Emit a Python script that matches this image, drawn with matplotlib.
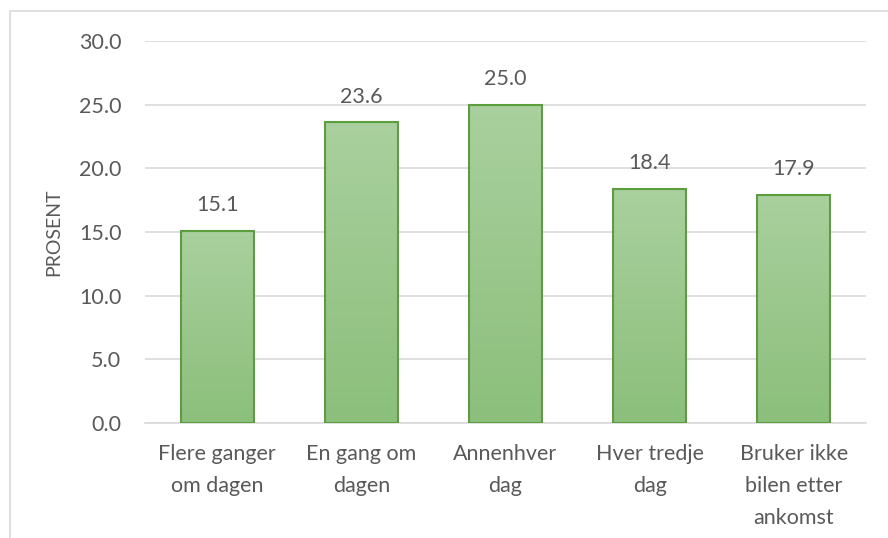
import numpy as np
import matplotlib
matplotlib.use('Agg')
from matplotlib import pyplot as plt
from matplotlib.patches import Rectangle

categories = ['Flere ganger\nom dagen', 'En gang om\ndagen', 'Annenhver\ndag', 'Hver tredje\ndag', 'Bruker ikke\nbilen etter\nankomst']
values = [15.1, 23.6, 25.0, 18.4, 17.9]
yticks = [0, 5, 10, 15, 20, 25, 30]

plt.rcParams['font.family'] = ['Lato', 'DejaVu Sans']
grey = '#595959'

fig = plt.figure(figsize=(8.88, 5.38), dpi=100)
W, H = 888, 538
ax = fig.add_axes([145 / W, 1 - 423 / H, (866 - 145) / W, (423 - 41) / H])

# chart border (cropped at right/bottom)
fig.patches.append(Rectangle((9.5 / W, -0.1), 1.2, 1 - 11 / H + 0.1, transform=fig.transFigure,
                             fill=False, edgecolor='#d9d9d9', linewidth=1.2))

x = np.arange(len(values))
bars = ax.bar(x, values, width=0.505, color='none', edgecolor='#5b9e3c', linewidth=1.5, zorder=3)

grad = np.linspace(0, 1, 256).reshape(-1, 1)
top = np.array([0xa9, 0xd0, 0x9e]) / 255
bot = np.array([0x8c, 0xbf, 0x7b]) / 255
img = top + (bot - top) * grad[:, :, None]
for b in bars:
    bx, by = b.get_x(), b.get_y()
    bw, bh = b.get_width(), b.get_height()
    im = ax.imshow(img, extent=[bx, bx + bw, by, by + bh], aspect='auto', zorder=2, origin='upper')
    im.set_clip_path(b)

for xi, v in zip(x, values):
    ax.annotate(f'{v:.1f}', (xi, v), xytext=(0, 18.5), textcoords='offset points',
                ha='center', va='center', color=grey, fontsize=15.5)

ax.set_xlim(-0.5, len(values) - 0.5)
ax.set_ylim(0, 30)
ax.set_yticks(yticks)
ax.set_yticklabels([f'{t:.1f}' for t in yticks], color=grey, fontsize=15.5)
ax.set_xticks(x)
ax.set_xticklabels(categories, color=grey, fontsize=15.5, linespacing=1.75, va='top')
ax.tick_params(axis='both', length=0)
ax.tick_params(axis='y', pad=17)
ax.tick_params(axis='x', pad=15)
ax.grid(axis='y', color='#d9d9d9', linewidth=1.2, zorder=0)
ax.set_axisbelow(True)
for s in ['top', 'right', 'left']:
    ax.spines[s].set_visible(False)
ax.spines['bottom'].set_color('#d9d9d9')
ax.spines['bottom'].set_linewidth(1.2)
ax.set_ylabel('PROSENT', color=grey, fontsize=14, labelpad=12)

fig.savefig('out.png', dpi=100)
